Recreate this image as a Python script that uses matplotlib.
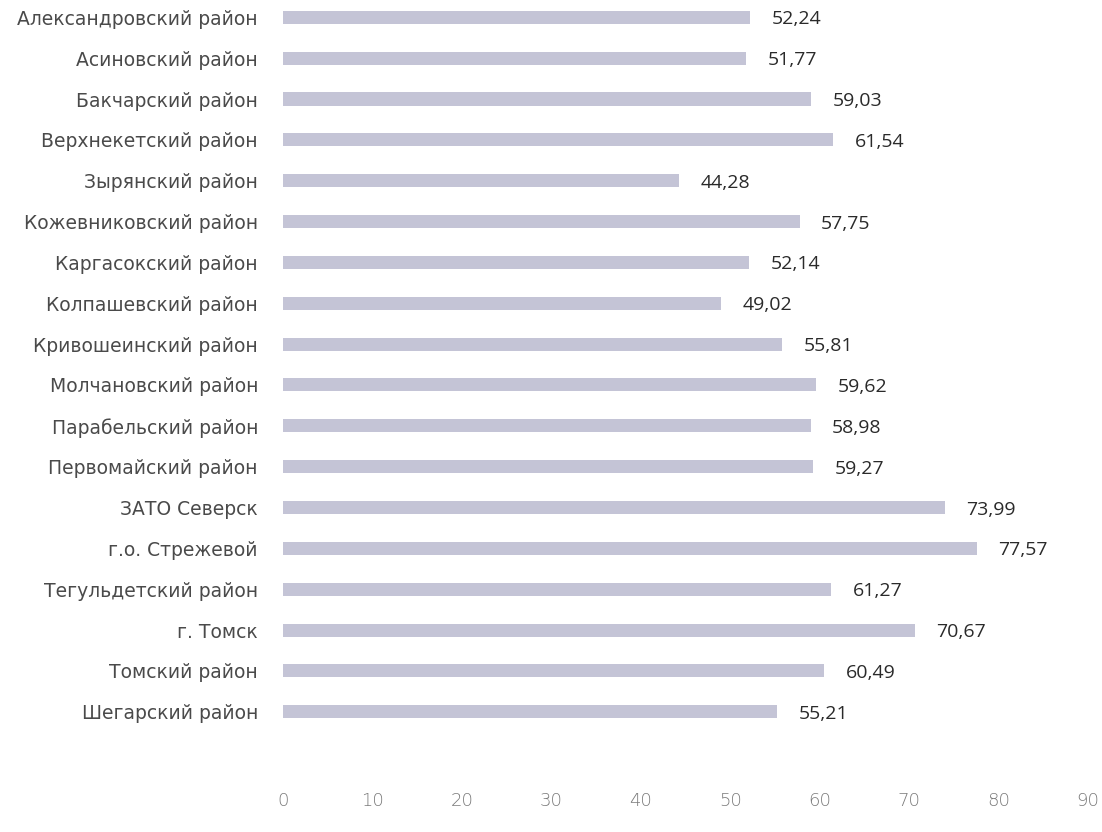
import matplotlib
matplotlib.use("Agg")
import matplotlib.pyplot as plt

categories = [
    "Александровский район", "Асиновский район", "Бакчарский район",
    "Верхнекетский район", "Зырянский район", "Кожевниковский район",
    "Каргасокский район", "Колпашевский район", "Кривошеинский район",
    "Молчановский район", "Парабельский район", "Первомайский район",
    "ЗАТО Северск", "г.о. Стрежевой", "Тегульдетский район",
    "г. Томск", "Томский район", "Шегарский район",
]
values = [52.24, 51.77, 59.03, 61.54, 44.28, 57.75, 52.14, 49.02, 55.81,
          59.62, 58.98, 59.27, 73.99, 77.57, 61.27, 70.67, 60.49, 55.21]
xticks = [0, 10, 20, 30, 40, 50, 60, 70, 80, 90]

plt.rcParams['font.family'] = ['Open Sans', 'DejaVu Sans']

fig = plt.figure(figsize=(11.02, 8.32), dpi=100)
W, H = 1102, 832
left, right = 283 / W, 1088 / W
top_px, bot_px = 1, 773
ax = fig.add_axes([left, 1 - bot_px / H, right - left, (bot_px - top_px) / H])

ypos = list(range(len(categories)))
ax.barh(ypos, values, height=0.32, color="#c4c4d6", edgecolor="none")
for y, v in zip(ypos, values):
    ax.text(v + 2.4, y + 0.05, f"{v:.2f}".replace(".", ","), va="center", ha="left",
            fontsize=14, color="#2a2a2a")

ax.set_xlim(0, 90)
ax.set_ylim(18.5, -0.4)
ax.set_yticks(ypos)
ax.set_yticklabels(categories, fontsize=13.5, color="#4a4a4a",
                   family=['DejaVu Sans'])
ax.set_xticks(xticks)
ax.set_xticklabels([str(t) for t in xticks], fontsize=13, color="#7a7a7a",
                   family=['DejaVu Sans'], fontweight='light')
ax.tick_params(axis="y", length=0, pad=18)
ax.tick_params(axis="x", length=0, pad=14)
for s in ax.spines.values():
    s.set_visible(False)

fig.savefig("out.png", dpi=100, facecolor="white")
